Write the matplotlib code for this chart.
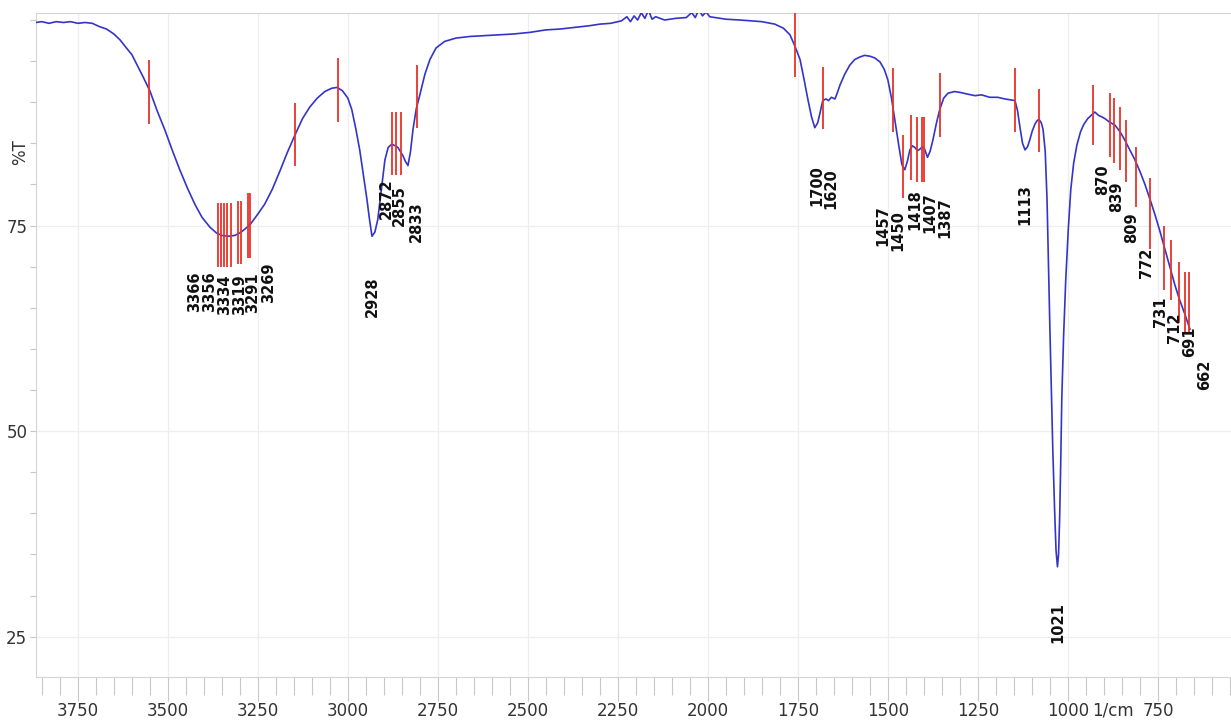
import numpy as np
import matplotlib.pyplot as plt
from matplotlib.ticker import MultipleLocator, FixedLocator

# spectrum (wavenumber 1/cm, %T)
wavenumber = [3867, 3850, 3830, 3810, 3790, 3770, 3750, 3730, 3710, 3690, 3670, 3650, 3633, 3615,
              3600, 3585, 3570, 3550, 3530, 3508, 3488, 3467, 3445, 3425, 3405, 3383, 3365, 3350,
              3332, 3314, 3300, 3285, 3270, 3250, 3231, 3210, 3189, 3168, 3147, 3126, 3106, 3085,
              3064, 3045, 3030, 3015, 3000, 2989, 2978, 2967, 2957, 2947, 2940, 2933, 2925, 2917,
              2908, 2897, 2888, 2878, 2868, 2861, 2854, 2847, 2840, 2833, 2826, 2819, 2810, 2800,
              2786, 2772, 2755, 2731, 2700, 2661, 2620, 2578, 2540, 2494, 2450, 2411, 2370, 2330,
              2300, 2270, 2240, 2225, 2215, 2205, 2195, 2185, 2175, 2165, 2155, 2145, 2120, 2090,
              2060, 2045, 2035, 2025, 2015, 2005, 1995, 1980, 1950, 1911, 1880, 1850, 1814, 1790,
              1772, 1758, 1744, 1733, 1722, 1712, 1703, 1695, 1689, 1681, 1672, 1665, 1657, 1647,
              1640, 1633, 1620, 1606, 1592, 1578, 1565, 1550, 1537, 1522, 1510, 1500, 1490, 1481,
              1470, 1461, 1453, 1446, 1439, 1432, 1425, 1418, 1411, 1404, 1398, 1390, 1383, 1375,
              1365, 1356, 1345, 1333, 1315, 1300, 1280, 1258, 1240, 1217, 1195, 1175, 1160, 1147,
              1140, 1133, 1126, 1119, 1112, 1106, 1099, 1092, 1085, 1080, 1074, 1069, 1063, 1058,
              1054, 1050, 1046, 1042, 1037, 1033, 1029, 1026, 1023, 1020, 1017, 1012, 1006, 999,
              992, 984, 975, 965, 956, 945, 933, 925, 915, 905, 897, 885, 869, 855,
              842, 828, 814, 800, 786, 772, 758, 745, 731, 717, 703, 690, 675, 661]
transmittance = [99.7, 99.8, 99.6, 99.8, 99.7, 99.8, 99.6, 99.7, 99.6, 99.2, 98.9, 98.3, 97.6, 96.6,
                 95.8, 94.5, 93.2, 91.4, 89.0, 86.6, 84.2, 81.8, 79.5, 77.6, 76.0, 74.8, 74.1, 73.8,
                 73.7, 73.8, 74.1, 74.6, 75.2, 76.4, 77.6, 79.4, 81.6, 83.9, 86.0, 88.0, 89.4, 90.5,
                 91.3, 91.7, 91.8, 91.4, 90.5, 89.1, 86.8, 84.2, 81.2, 78.2, 75.8, 73.7, 74.2, 75.7,
                 79.0, 83.0, 84.5, 84.9, 84.7, 84.5, 84.0, 83.5, 82.8, 82.3, 84.0, 86.7, 89.2, 90.9,
                 93.4, 95.2, 96.6, 97.4, 97.8, 98.0, 98.1, 98.2, 98.3, 98.5, 98.8, 98.9, 99.1, 99.3,
                 99.5, 99.6, 99.9, 100.4, 99.8, 100.5, 100.0, 100.9, 100.2, 101.2, 100.1, 100.4, 100.0, 100.2,
                 100.3, 100.9, 100.3, 101.3, 100.5, 101.0, 100.4, 100.3, 100.1, 100.0, 99.9, 99.8, 99.5, 99.0,
                 98.2, 96.8, 95.2, 92.8, 90.3, 88.2, 86.9, 87.5, 88.6, 90.2, 90.4, 90.2, 90.6, 90.4,
                 91.2, 92.1, 93.4, 94.5, 95.2, 95.5, 95.7, 95.6, 95.4, 94.9, 94.0, 92.7, 90.5, 87.9,
                 84.8, 82.4, 81.8, 82.8, 84.2, 84.7, 84.5, 84.1, 84.3, 84.6, 84.3, 83.3, 84.0, 85.4,
                 87.5, 89.1, 90.5, 91.1, 91.3, 91.2, 91.0, 90.8, 90.9, 90.6, 90.6, 90.4, 90.3, 90.2,
                 89.0, 86.9, 85.0, 84.2, 84.6, 85.4, 86.5, 87.3, 87.8, 87.9, 87.5, 86.7, 84.0, 78.2,
                 70.0, 62.4, 55.0, 47.8, 40.5, 35.5, 33.5, 35.0, 39.3, 46.0, 53.9, 61.5, 68.4, 74.5,
                 79.4, 82.6, 84.8, 86.4, 87.3, 88.0, 88.5, 88.8, 88.4, 88.2, 88.0, 87.6, 87.2, 86.4,
                 85.4, 84.2, 83.0, 81.6, 80.0, 78.2, 76.3, 74.4, 72.2, 70.0, 67.8, 66.0, 64.2, 62.4]

# red peak markers: position, top and bottom in %T
marker_pos = [3553, 3147, 3361, 3353, 3344, 3336, 3325, 3306, 3297, 3278, 3272, 3028,
              2878, 2867, 2853, 2808, 1758, 1681, 1486, 1458, 1436, 1419, 1406, 1400, 1356,
              1147, 1081, 931, 883, 872, 856, 839, 811, 772, 733, 714, 692, 675, 664]
marker_top = [95.1, 89.9, 77.8, 77.8, 77.8, 77.8, 77.8, 78.0, 78.0, 79.0, 79.0, 95.4,
              88.8, 88.8, 88.8, 94.5, 101.0, 94.3, 94.2, 86.0, 88.5, 88.2, 88.2, 88.2, 93.6,
              94.2, 91.6, 92.1, 91.1, 90.5, 89.4, 87.9, 84.6, 80.8, 74.9, 73.3, 70.6, 69.3, 69.3]
marker_bottom = [87.3, 82.3, 69.9, 69.9, 69.9, 69.9, 69.9, 70.3, 70.3, 71.1, 71.1, 87.6,
                 81.2, 81.2, 81.2, 86.9, 93.1, 86.7, 86.4, 78.4, 80.6, 80.3, 80.3, 80.3, 85.8,
                 86.4, 83.9, 84.8, 83.4, 82.6, 81.8, 80.3, 77.2, 72.1, 67.2, 66.0, 63.2, 62.1, 62.1]

# peak labels: text, anchor position and top of the text in %T
peak_text = ['3366', '3356', '3334', '3319', '3291', '3269', '2928', '2872', '2855', '2833',
             '1700', '1620', '1457', '1450', '1418', '1407', '1387', '1113', '1021',
             '870', '839', '809', '772', '731', '712', '691', '662']
peak_x = [3425, 3383, 3342, 3300, 3264, 3219, 2933, 2894, 2856, 2811,
          1697, 1658, 1514, 1472, 1425, 1383, 1342, 1119, 1028,
          903, 864, 822, 781, 744, 703, 661, 619]
peak_top = [69.4, 69.4, 69.05, 69.05, 69.3, 70.5, 68.8, 80.8, 79.9, 78.0,
            82.4, 82.0, 77.5, 76.9, 79.4, 79.0, 78.4, 80.0, 29.25,
            82.4, 80.3, 76.6, 72.3, 66.4, 64.4, 62.7, 58.7]

x_major = [3750, 3500, 3250, 3000, 2750, 2500, 2250, 2000, 1750, 1500, 1250, 1000, 750]
y_major = [25, 50, 75]

tick_font = ['Liberation Sans Narrow', 'DejaVu Sans']

fig = plt.figure(figsize=(12.31, 7.24), dpi=100)
ax = fig.add_axes([0.029, 0.065, 0.971, 0.917])

ax.plot(wavenumber, transmittance, color='#3434c8', lw=1.2, zorder=3)
ax.vlines(marker_pos, marker_bottom, marker_top, color='#e8332a', lw=1.3, zorder=4)
for txt, px, pt in zip(peak_text, peak_x, peak_top):
    ax.text(px, pt, txt, rotation=90, ha='center', va='top', fontsize=10.5,
            fontweight='bold', family='DejaVu Sans', color='#111111', zorder=5)

ax.set_xlim(3867, 547)
ax.set_ylim(20.1, 100.85)

ax.xaxis.set_major_locator(FixedLocator(x_major))
ax.xaxis.set_minor_locator(MultipleLocator(50))
ax.yaxis.set_major_locator(FixedLocator(y_major))
ax.yaxis.set_minor_locator(MultipleLocator(5))

ax.grid(True, which='major', color='#eeeeee', lw=0.9)
ax.set_axisbelow(True)

ax.tick_params(axis='x', which='major', length=17, width=0.8, color='#c8c8c8', pad=1,
               labelsize=12, labelcolor='#333333')
ax.tick_params(axis='x', which='minor', length=13, width=0.8, color='#c8c8c8')
ax.tick_params(axis='y', which='both', length=4, width=0.8, color='#c8c8c8', pad=2,
               labelsize=12, labelcolor='#333333')
for lab in ax.get_xticklabels() + ax.get_yticklabels():
    lab.set_family(tick_font)

for side in ['left', 'top', 'bottom']:
    ax.spines[side].set_color('#d4d4d4')
ax.spines['right'].set_visible(False)

fig.text(20 / 1231, 1 - 152 / 724, '%T', rotation=90, ha='center', va='center',
         fontsize=12, color='#333333', family=tick_font)

ax.text(875, -0.037, '1/cm', transform=ax.get_xaxis_transform(), ha='center', va='top',
        fontsize=12, color='#333333', family=tick_font)

fig.savefig('out.png', dpi=100)
